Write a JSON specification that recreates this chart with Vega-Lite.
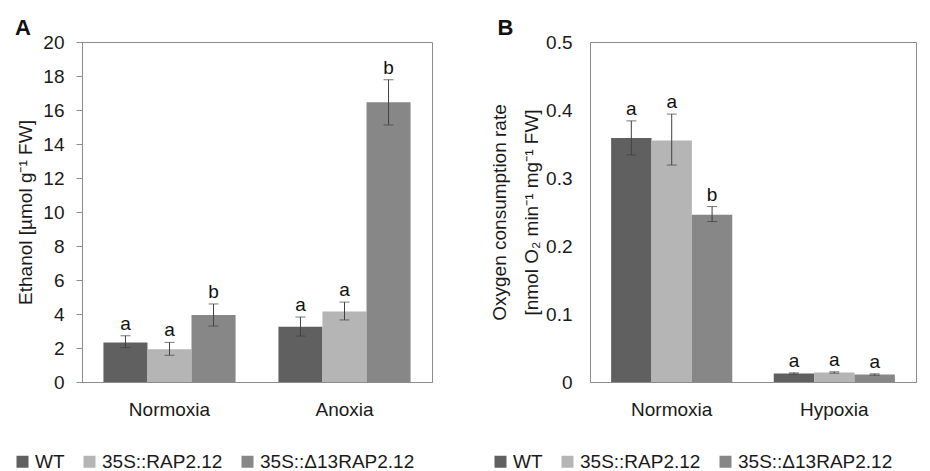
{
  "$schema": "https://vega.github.io/schema/vega-lite/v6.json",
  "background": "white",
  "padding": {"left": 12, "top": 16, "right": 5, "bottom": 0},
  "bounds": "flush",
  "spacing": 158,
  "config": {
    "font": "Liberation Sans",
    "view": {"stroke": "#8c8c8c", "strokeWidth": 1},
    "axis": {
      "domainColor": "#8c8c8c",
      "tickColor": "#8c8c8c",
      "labelColor": "#1a1a1a",
      "titleColor": "#1a1a1a",
      "labelFont": "Liberation Sans",
      "titleFont": "Liberation Sans",
      "labelFontSize": 19,
      "titleFontSize": 19,
      "titleFontWeight": "normal",
      "labelOverlap": false,
      "grid": false
    },
    "legend": {
      "labelFont": "Liberation Sans",
      "labelFontSize": 19,
      "labelColor": "#1a1a1a",
      "symbolType": "square",
      "symbolSize": 144,
      "symbolStrokeWidth": 0,
      "labelOffset": 3,
      "columnPadding": 15
    },
    "title": {"font": "Liberation Sans", "fontSize": 22, "fontWeight": "bold", "color": "#111111", "anchor": "start", "frame": "bounds"}
  },
  "resolve": {
    "scale": {"x": "independent", "y": "independent", "color": "independent", "xOffset": "independent"},
    "legend": {"color": "independent"}
  },
  "hconcat": [
    {
      "width": 350,
      "height": 340,
      "title": {"text": "A", "offset": -7, "dx": 2},
      "data": {"values": [
        {"condition": "Normoxia", "genotype": "WT", "mean": 2.33, "lo": 2.02, "hi": 2.72, "sig": "a"},
        {"condition": "Normoxia", "genotype": "35S::RAP2.12", "mean": 1.92, "lo": 1.57, "hi": 2.33, "sig": "a"},
        {"condition": "Normoxia", "genotype": "35S::Δ13RAP2.12", "mean": 3.94, "lo": 3.29, "hi": 4.59, "sig": "b"},
        {"condition": "Anoxia", "genotype": "WT", "mean": 3.25, "lo": 2.7, "hi": 3.82, "sig": "a"},
        {"condition": "Anoxia", "genotype": "35S::RAP2.12", "mean": 4.14, "lo": 3.65, "hi": 4.7, "sig": "a"},
        {"condition": "Anoxia", "genotype": "35S::Δ13RAP2.12", "mean": 16.45, "lo": 15.12, "hi": 17.78, "sig": "b"}
      ]},
      "encoding": {
        "x": {"field": "condition", "type": "nominal", "sort": ["Normoxia", "Anoxia"],
              "scale": {"paddingInner": 0.245, "paddingOuter": 0.1225},
              "axis": {"title": null, "labelAngle": 0, "ticks": false, "labelPadding": 18}},
        "xOffset": {"field": "genotype", "type": "nominal", "sort": ["WT", "35S::RAP2.12", "35S::Δ13RAP2.12"],
                    "scale": {"paddingInner": 0, "paddingOuter": 0}}
      },
      "layer": [
        {
          "mark": {"type": "bar"},
          "encoding": {
            "y": {"field": "mean", "type": "quantitative", "scale": {"domain": [0, 20], "nice": false},
                  "axis": {"title": "Ethanol [µmol g⁻¹ FW]", "values": [0, 2, 4, 6, 8, 10, 12, 14, 16, 18, 20], "tickCount": 11,
                           "labelOverlap": false, "tickSize": 6, "labelPadding": 12, "titlePadding": 7}},
            "color": {"field": "genotype", "type": "nominal",
                      "scale": {"domain": ["WT", "35S::RAP2.12", "35S::Δ13RAP2.12"], "range": ["#606060", "#b5b5b5", "#878787"]},
                      "legend": {"title": null, "orient": "none", "direction": "horizontal", "legendX": -69, "legendY": 410}}
          }
        },
        {
          "mark": {"type": "rule", "color": "#404040", "strokeWidth": 1},
          "encoding": {"y": {"field": "lo", "type": "quantitative",
                             "axis": {"title": "Ethanol [µmol g⁻¹ FW]", "values": [0, 2, 4, 6, 8, 10, 12, 14, 16, 18, 20], "tickCount": 11,
                                      "labelOverlap": false, "tickSize": 6, "labelPadding": 12, "titlePadding": 7}},
                       "y2": {"field": "hi"}}
        },
        {
          "mark": {"type": "tick", "color": "#404040", "size": 10, "thickness": 1},
          "encoding": {"y": {"field": "lo", "type": "quantitative",
                             "axis": {"title": "Ethanol [µmol g⁻¹ FW]", "values": [0, 2, 4, 6, 8, 10, 12, 14, 16, 18, 20], "tickCount": 11,
                                      "labelOverlap": false, "tickSize": 6, "labelPadding": 12, "titlePadding": 7}}}
        },
        {
          "mark": {"type": "tick", "color": "#404040", "size": 10, "thickness": 1},
          "encoding": {"y": {"field": "hi", "type": "quantitative",
                             "axis": {"title": "Ethanol [µmol g⁻¹ FW]", "values": [0, 2, 4, 6, 8, 10, 12, 14, 16, 18, 20], "tickCount": 11,
                                      "labelOverlap": false, "tickSize": 6, "labelPadding": 12, "titlePadding": 7}}}
        },
        {
          "mark": {"type": "text", "baseline": "alphabetic", "dy": -6, "fontSize": 19, "font": "Liberation Sans", "color": "#111111"},
          "encoding": {"y": {"field": "hi", "type": "quantitative",
                             "axis": {"title": "Ethanol [µmol g⁻¹ FW]", "values": [0, 2, 4, 6, 8, 10, 12, 14, 16, 18, 20], "tickCount": 11,
                                      "labelOverlap": false, "tickSize": 6, "labelPadding": 12, "titlePadding": 7}},
                       "text": {"field": "sig"}}
        }
      ]
    },
    {
      "width": 326,
      "height": 340,
      "title": {"text": "B", "offset": -7, "dx": 7},
      "data": {"values": [
        {"condition": "Normoxia", "genotype": "WT", "mean": 0.359, "lo": 0.334, "hi": 0.384, "sig": "a"},
        {"condition": "Normoxia", "genotype": "35S::RAP2.12", "mean": 0.355, "lo": 0.319, "hi": 0.394, "sig": "a"},
        {"condition": "Normoxia", "genotype": "35S::Δ13RAP2.12", "mean": 0.246, "lo": 0.236, "hi": 0.258, "sig": "b"},
        {"condition": "Hypoxia", "genotype": "WT", "mean": 0.0125, "lo": 0.0115, "hi": 0.0135, "sig": "a"},
        {"condition": "Hypoxia", "genotype": "35S::RAP2.12", "mean": 0.014, "lo": 0.013, "hi": 0.015, "sig": "a"},
        {"condition": "Hypoxia", "genotype": "35S::Δ13RAP2.12", "mean": 0.011, "lo": 0.010, "hi": 0.012, "sig": "a"}
      ]},
      "encoding": {
        "x": {"field": "condition", "type": "nominal", "sort": ["Normoxia", "Hypoxia"],
              "scale": {"paddingInner": 0.255, "paddingOuter": 0.13},
              "axis": {"title": null, "labelAngle": 0, "ticks": false, "labelPadding": 18}},
        "xOffset": {"field": "genotype", "type": "nominal", "sort": ["WT", "35S::RAP2.12", "35S::Δ13RAP2.12"],
                    "scale": {"paddingInner": 0, "paddingOuter": 0}}
      },
      "layer": [
        {
          "mark": {"type": "bar"},
          "encoding": {
            "y": {"field": "mean", "type": "quantitative", "scale": {"domain": [0, 0.5], "nice": false},
                  "axis": {"title": ["Oxygen consumption rate", "[nmol O₂ min⁻¹ mg⁻¹ FW]"], "values": [0, 0.1, 0.2, 0.3, 0.4, 0.5],
                           "format": "~g", "ticks": false, "labelPadding": 18, "titlePadding": 4, "titleLineHeight": 32}},
            "color": {"field": "genotype", "type": "nominal",
                      "scale": {"domain": ["WT", "35S::RAP2.12", "35S::Δ13RAP2.12"], "range": ["#606060", "#b5b5b5", "#878787"]},
                      "legend": {"title": null, "orient": "none", "direction": "horizontal", "legendX": -99, "legendY": 410}}
          }
        },
        {
          "mark": {"type": "rule", "color": "#404040", "strokeWidth": 1},
          "encoding": {"y": {"field": "lo", "type": "quantitative"}, "y2": {"field": "hi"}}
        },
        {
          "mark": {"type": "tick", "color": "#404040", "size": 10, "thickness": 1},
          "encoding": {"y": {"field": "lo", "type": "quantitative"}}
        },
        {
          "mark": {"type": "tick", "color": "#404040", "size": 10, "thickness": 1},
          "encoding": {"y": {"field": "hi", "type": "quantitative"}}
        },
        {
          "mark": {"type": "text", "baseline": "alphabetic", "dy": -6, "fontSize": 19, "font": "Liberation Sans", "color": "#111111"},
          "encoding": {"y": {"field": "hi", "type": "quantitative"}, "text": {"field": "sig"}}
        }
      ]
    }
  ]
}
